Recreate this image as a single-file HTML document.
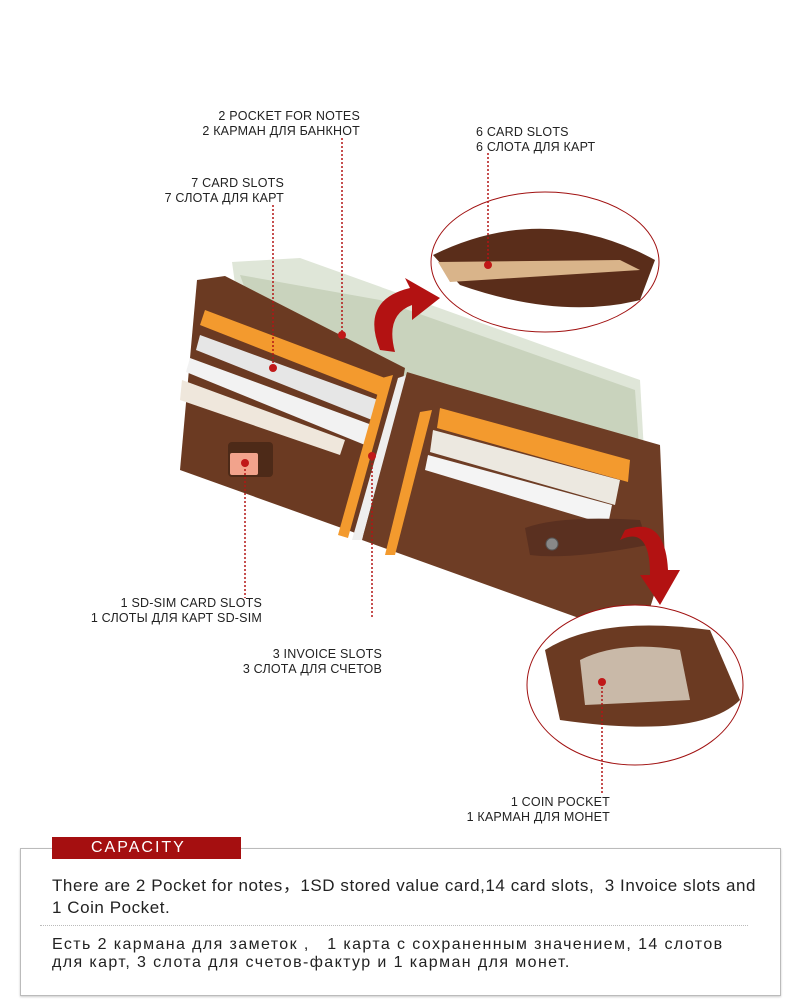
<!DOCTYPE html>
<html><head><meta charset="utf-8"><style>
html,body{margin:0;padding:0;background:#fff;}
body{width:800px;height:1008px;position:relative;overflow:hidden;font-family:"Liberation Sans",sans-serif;}
.l{position:absolute;font-size:12.5px;color:#222;line-height:15px;text-align:right;letter-spacing:0.2px}
.box{position:absolute;left:20px;top:848px;width:759px;height:146px;border:1px solid #bbb;box-shadow:0 1px 2px #ccc}
.cap{position:absolute;left:52px;top:837px;width:189px;height:22px;background:#a50f10;color:#fff;font-size:16px;letter-spacing:2px;line-height:22px;padding-left:39px;box-sizing:border-box}
.t1{position:absolute;left:52px;top:875px;font-size:17px;color:#222;line-height:22px;white-space:nowrap;letter-spacing:0.55px}
.t2{position:absolute;left:52px;top:936px;font-size:16px;color:#222;line-height:18px;white-space:nowrap;letter-spacing:1.4px}
.hr{position:absolute;left:40px;top:925px;width:708px;border-top:1px dotted #bbb}
</style></head><body>
<svg width="800" height="840" style="position:absolute;left:0;top:0">
<polygon points="232,262 300,258 640,380 645,470 560,460 240,320" fill="#dfe6d8"/>
<polygon points="240,275 380,300 635,390 640,460 260,330" fill="#c9d3bd"/>
<polygon points="197,280 225,276 405,368 375,540 180,470" fill="#6b3a22"/>
<polygon points="205,310 385,378 378,395 200,325" fill="#f39a2e"/>
<polygon points="200,335 378,400 372,420 196,350" fill="#e6e6e6"/>
<polygon points="190,358 372,425 365,445 186,372" fill="#f2f2f2"/>
<polygon points="182,380 345,440 340,455 180,400" fill="#efe7dc"/>
<rect x="228" y="442" width="45" height="35" fill="#4d2a18" rx="4"/>
<rect x="230" y="453" width="28" height="22" fill="#f2a38c" rx="2"/>
<polygon points="382,378 393,375 348,538 338,535" fill="#f39a2e"/>
<polygon points="398,378 407,375 362,540 352,540" fill="#eeeeee"/>
<polygon points="407,372 450,385 660,445 665,560 640,640 362,540" fill="#6e3d25"/>
<polygon points="440,408 630,460 628,482 437,428" fill="#f39a2e"/>
<polygon points="433,430 620,480 615,505 430,452" fill="#ece8e0"/>
<polygon points="428,455 612,505 608,525 425,470" fill="#f4f4f4"/>
<polygon points="420,412 432,410 395,555 385,555" fill="#f39a2e"/>
<path d="M525 528 Q560 515 640 520 L648 545 Q570 560 530 555 Z" fill="#5a3020"/>
<circle cx="552" cy="544" r="6" fill="#888" stroke="#555"/>
<ellipse cx="545" cy="262" rx="114" ry="70" fill="#fff" stroke="#a01010" stroke-width="1"/>
<path d="M433 255 Q545 200 655 260 L640 300 Q560 320 460 285 Z" fill="#5a2d1a"/>
<path d="M438 262 L620 260 L640 270 L450 282Z" fill="#d9b48a"/>
<ellipse cx="635" cy="685" rx="108" ry="80" fill="#fff" stroke="#a01010" stroke-width="1"/>
<path d="M545 650 Q600 615 710 630 L740 700 Q700 740 560 720 Z" fill="#6b3a22"/>
<path d="M580 660 Q620 640 680 650 L690 700 L585 705Z" fill="#c9b9a8"/>
<path d="M380 350 Q360 300 410 288 L405 278 L440 298 L412 320 L412 305 Q385 315 395 352 Z" fill="#b31212"/>
<path d="M620 540 Q650 525 650 575 L640 575 L660 605 L680 570 L668 570 Q665 515 625 530 Z" fill="#b31212"/>
<g stroke="#b31515" stroke-width="1.5" stroke-dasharray="2,2" fill="none">
<line x1="342" y1="138" x2="342" y2="332"/>
<line x1="273" y1="205" x2="273" y2="368"/>
<line x1="488" y1="153" x2="488" y2="265"/>
<line x1="245" y1="465" x2="245" y2="598"/>
<line x1="372" y1="455" x2="372" y2="618"/>
<line x1="602" y1="683" x2="602" y2="793"/>
</g>
<g fill="#c01818"><circle cx="342" cy="335" r="4"/><circle cx="273" cy="368" r="4"/><circle cx="488" cy="265" r="4"/><circle cx="245" cy="463" r="4"/><circle cx="372" cy="456" r="4"/><circle cx="602" cy="682" r="4"/></g>
</svg>
<div class="l" style="left:150px;top:109px;width:210px">2 POCKET FOR NOTES<br>2 КАРМАН ДЛЯ БАНКНОТ</div>
<div class="l" style="left:100px;top:176px;width:184px">7 CARD SLOTS<br>7 СЛОТА ДЛЯ КАРТ</div>
<div class="l" style="left:476px;top:125px;width:200px;text-align:left">6 CARD SLOTS<br>6 СЛОТА ДЛЯ КАРТ</div>
<div class="l" style="left:40px;top:596px;width:222px">1 SD-SIM CARD SLOTS<br>1 СЛОТЫ ДЛЯ КАРТ SD-SIM</div>
<div class="l" style="left:180px;top:647px;width:202px">3 INVOICE SLOTS<br>3 СЛОТА ДЛЯ СЧЕТОВ</div>
<div class="l" style="left:400px;top:795px;width:210px">1 COIN POCKET<br>1 КАРМАН ДЛЯ МОНЕТ</div>
<div class="box"></div>
<div class="cap">CAPACITY</div>
<div class="t1">There are 2 Pocket for notes，1SD stored value card,14 card slots,&nbsp; 3 Invoice slots and<br>1 Coin Pocket.</div>
<div class="hr"></div>
<div class="t2">Есть 2 кармана для заметок ,&nbsp;&nbsp; 1 карта с сохраненным значением, 14 слотов<br>для карт, 3 слота для счетов-фактур и 1 карман для монет.</div>
</body></html>
